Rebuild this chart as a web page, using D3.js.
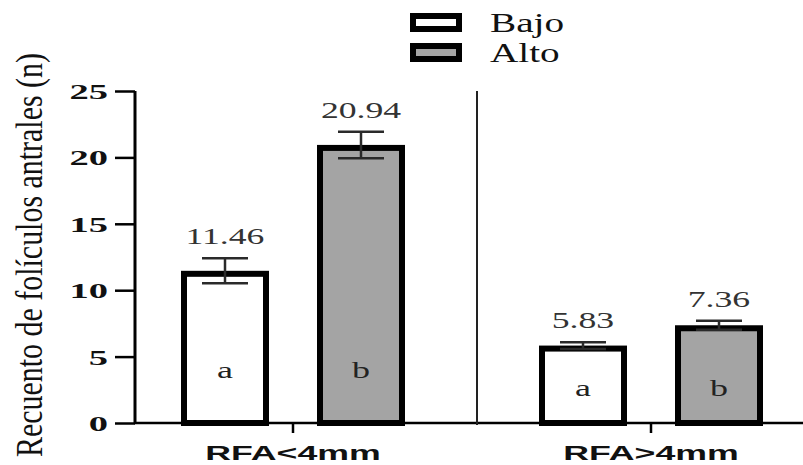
<!DOCTYPE html>
<html>
<head>
<meta charset="utf-8">
<script src="https://cdn.jsdelivr.net/npm/d3@7"></script>
<style>
  html, body { margin: 0; padding: 0; background: #fff; }
  svg { display: block; }
</style>
</head>
<body>
<svg id="chart" width="803" height="465"></svg>
<script>
const categories = ["RFA<4mm", "RFA>4mm"];
const seriesNames = ["Bajo", "Alto"];
const bajoValues = [11.46, 5.83];
const altoValues = [20.94, 7.36];
const bajoErrors = [0.94, 0.25];
const altoErrors = [1.0, 0.34];
const bajoLetters = ["a", "a"];
const altoLetters = ["b", "b"];
const letterLevels = [3.4, 2.0];
const yTicks = [0, 5, 10, 15, 20, 25];
const yTitle = "Recuento de folículos antrales (n)";

const colors = { Bajo: "#ffffff", Alto: "#a4a4a4" };

const svg = d3.select("#chart");

const y = d3.scaleLinear().domain([0, 25]).range([423, 91]);
const x0 = d3.scaleBand().domain(categories).range([114, 830]);
const x1 = d3.scaleBand().domain(seriesNames).range([67, 291])
  .paddingInner(48 / 136).paddingOuter(0);

const serif = "'Liberation Serif', 'Times New Roman', serif";
const sans = "'Liberation Sans', Arial, sans-serif";

function stretch(sel, sx) {
  sel.each(function() {
    const w = this.getComputedTextLength();
    d3.select(this).attr("textLength", w * sx).attr("lengthAdjust", "spacingAndGlyphs");
  });
}

const rows = [];
categories.forEach((c, i) => {
  rows.push({ cat: c, s: "Bajo", v: bajoValues[i], e: bajoErrors[i], l: bajoLetters[i], ly: letterLevels[i] });
  rows.push({ cat: c, s: "Alto", v: altoValues[i], e: altoErrors[i], l: altoLetters[i], ly: letterLevels[i] });
});

const bw = x1.bandwidth();
const sw = 6;

// bars
svg.append("g").selectAll("rect").data(rows).join("rect")
  .attr("x", d => x0(d.cat) + x1(d.s) + sw / 2)
  .attr("y", d => y(d.v) + sw / 2)
  .attr("width", bw - sw)
  .attr("height", d => y(0) - y(d.v) - sw / 2)
  .attr("fill", d => colors[d.s])
  .attr("stroke", "#000")
  .attr("stroke-width", sw);

// error bars
const eg = svg.append("g").attr("stroke", "#2a2a2a").attr("stroke-width", 2.5);
const capW = 46;
rows.forEach(d => {
  const cx = x0(d.cat) + x1(d.s) + bw / 2;
  eg.append("line").attr("x1", cx).attr("x2", cx).attr("y1", y(d.v + d.e)).attr("y2", y(d.v - d.e));
  eg.append("line").attr("x1", cx - capW / 2).attr("x2", cx + capW / 2).attr("y1", y(d.v + d.e)).attr("y2", y(d.v + d.e));
  eg.append("line").attr("x1", cx - capW / 2).attr("x2", cx + capW / 2).attr("y1", y(d.v - d.e)).attr("y2", y(d.v - d.e));
});

// value labels
const vl = svg.append("g").selectAll("text").data(rows).join("text")
  .attr("x", d => x0(d.cat) + x1(d.s) + bw / 2)
  .attr("y", d => y(d.v + d.e) - 14)
  .attr("text-anchor", "middle")
  .attr("font-family", serif)
  .attr("font-size", 23)
  .attr("fill", "#333")
  .text(d => d.v.toFixed(2));
stretch(vl, 1.55);

// letters in bars
const lt = svg.append("g").selectAll("text").data(rows).join("text")
  .attr("x", d => x0(d.cat) + x1(d.s) + bw / 2)
  .attr("y", d => y(d.ly))
  .attr("text-anchor", "middle")
  .attr("font-family", serif)
  .attr("font-size", 24)
  .attr("fill", "#222")
  .text(d => d.l);
stretch(lt, 1.5);

// y axis
const yAxis = d3.axisLeft(y).tickValues(yTicks).tickSize(20).tickPadding(7).tickFormat(d3.format("d"));
const ya = svg.append("g").attr("transform", "translate(135,0)").call(yAxis);
ya.select(".domain").attr("stroke", "#000").attr("stroke-width", 3).attr("d", `M0,${y(25)}V${y(0)}`);
ya.selectAll(".tick line").attr("stroke", "#000").attr("stroke-width", 2.5);
ya.selectAll(".tick text")
  .attr("font-family", serif).attr("font-weight", "bold").attr("font-size", 22).attr("fill", "#111")
  .attr("dy", "0.34em");
stretch(ya.selectAll(".tick text"), 1.75);

// x axis baseline
svg.append("line").attr("x1", 134).attr("x2", 803).attr("y1", y(0)).attr("y2", y(0))
  .attr("stroke", "#000").attr("stroke-width", 2.5);

// category ticks & labels
const xAxis = d3.axisBottom(x0).tickSize(10).tickPadding(12);
const xa = svg.append("g").attr("transform", `translate(0,${y(0)})`).call(xAxis);
xa.select(".domain").remove();
xa.selectAll(".tick line").attr("stroke", "#000").attr("stroke-width", 2.5);
xa.selectAll(".tick text")
  .attr("font-family", sans).attr("font-weight", "bold").attr("font-size", 21).attr("fill", "#111")
  .attr("dy", "0.71em");
stretch(xa.selectAll(".tick text"), 1.7);

// separator line
const sepX = x0(categories[1]) + 5;
svg.append("line").attr("x1", sepX).attr("x2", sepX).attr("y1", y(25)).attr("y2", y(0) + 2)
  .attr("stroke", "#222").attr("stroke-width", 2);

// y title
const tg = svg.append("g").attr("transform", `translate(42,255) scale(1.25,1) rotate(-90)`);
tg.append("text").attr("text-anchor", "middle")
  .attr("font-family", serif).attr("font-size", 30).attr("fill", "#111")
  .text(yTitle)
  .attr("textLength", 404).attr("lengthAdjust", "spacingAndGlyphs");

// legend
const lg = svg.append("g");
seriesNames.forEach((s, i) => {
  lg.append("rect").attr("x", 413).attr("y", 16 + i * 30).attr("width", 46).attr("height", 13)
    .attr("fill", colors[s]).attr("stroke", "#000").attr("stroke-width", 6);
  const t = lg.append("text").attr("x", 490).attr("y", 32 + i * 30)
    .attr("font-family", serif).attr("font-size", 28).attr("fill", "#111").text(s);
  stretch(t, 1.4);
});
</script>
</body>
</html>
